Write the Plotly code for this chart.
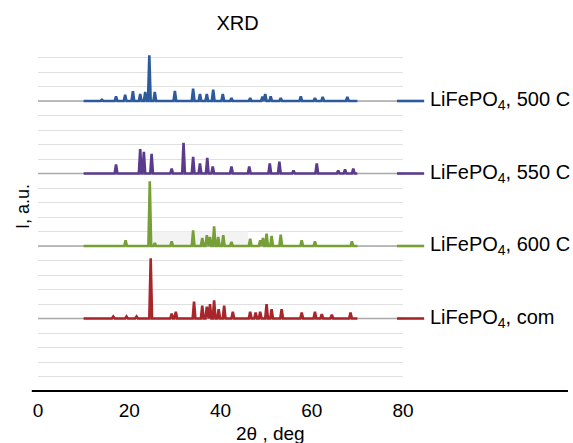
import plotly.graph_objects as go

# ---- data (peak positions in 2θ, heights in a.u.) ----
series_names = ["LiFePO<sub>4</sub>, 500 C", "LiFePO<sub>4</sub>, 550 C",
                "LiFePO<sub>4</sub>, 600 C", "LiFePO<sub>4</sub>, com"]
series_colors = ["#2c5a9c", "#5a3b8c", "#76a035", "#a8252a"]
series_offsets = [20, 15, 10, 5]
scan_start = 10.0
scan_end = 70.0

blue_pos = [14.0, 17.1, 19.1, 20.8, 22.4, 23.5, 24.4, 25.6, 30.0, 34.0, 35.5, 37.0, 38.4,
            40.5, 42.4, 46.5, 49.2, 49.8, 51.0, 53.2, 57.6, 60.7, 62.4, 67.8]
blue_h = [0.09, 0.32, 0.43, 0.67, 0.48, 0.62, 3.15, 0.62, 0.69, 0.85, 0.48, 0.48, 0.78,
          0.48, 0.21, 0.21, 0.3, 0.48, 0.32, 0.21, 0.32, 0.21, 0.28, 0.28]

purple_pos = [17.1, 22.4, 23.2, 24.9, 29.3, 31.9, 34.0, 35.5, 37.1, 38.3, 42.4, 46.3,
              50.8, 52.9, 56.0, 61.1, 65.8, 67.3, 69.1]
purple_h = [0.62, 1.68, 1.5, 1.35, 0.34, 2.12, 1.15, 0.69, 1.08, 0.48, 0.48, 0.48,
            0.69, 0.81, 0.21, 0.69, 0.21, 0.28, 0.34]

green_pos = [19.2, 24.5, 25.6, 29.3, 34.0, 36.0, 37.0, 37.7, 38.6, 39.5, 40.6, 42.4,
             46.5, 48.7, 49.3, 50.1, 51.2, 53.2, 57.8, 60.7, 68.8]
green_h = [0.39, 4.46, 0.21, 0.32, 1.08, 0.55, 0.74, 0.62, 1.36, 0.62, 0.74, 0.28,
           0.5, 0.39, 0.55, 0.85, 0.69, 0.78, 0.39, 0.32, 0.32]

red_pos = [16.5, 19.4, 21.6, 24.7, 29.3, 30.2, 34.2, 36.0, 37.0, 37.7, 38.6, 39.6, 40.8,
           42.7, 46.5, 47.7, 48.7, 50.1, 51.2, 53.4, 57.8, 60.7, 62.2, 64.4, 68.5]
red_h = [0.14, 0.14, 0.14, 4.16, 0.34, 0.46, 1.17, 0.88, 0.81, 0.99, 1.26, 0.64, 0.88,
         0.46, 0.46, 0.41, 0.46, 0.99, 0.64, 0.64, 0.41, 0.46, 0.3, 0.26, 0.41]

x_ticks = [0, 20, 40, 60, 80]
y_max = 24

peaks = [(blue_pos, blue_h), (purple_pos, purple_h), (green_pos, green_h), (red_pos, red_h)]
HALF_WIDTH = 0.3


def profile(pos, h, offset):
    xs, ys = [scan_start], [offset]
    for p, v in zip(pos, h):
        xs += [p - HALF_WIDTH, p, p + HALF_WIDTH]
        ys += [offset, offset + v, offset]
    xs.append(scan_end)
    ys.append(offset)
    return xs, ys


FONT = "Liberation Sans, Arial, sans-serif"

fig = go.Figure()
for (pos, h), name, col, off in zip(peaks, series_names, series_colors, series_offsets):
    xs, ys = profile(pos, h, off)
    fig.add_trace(go.Scatter(x=xs, y=ys, mode="lines", name=name, showlegend=False,
                             line=dict(color=col, width=2.6, shape="linear"),
                             hoverinfo="skip"))

shapes = []
annotations = []
# faint shaded band seen in the reference
shapes.append(dict(type="rect", xref="x", yref="y", x0=25, x1=46, y0=10, y1=11,
                   fillcolor="#f3f3f3", line=dict(width=0), layer="between"))
# darker baseline grid lines
for off in series_offsets:
    shapes.append(dict(type="line", xref="x", yref="y", x0=0, x1=80, y0=off, y1=off,
                       line=dict(color="#a9a9a9", width=1.6), layer="between"))
# black horizontal axis line extending under the legend
shapes.append(dict(type="line", xref="paper", yref="paper", x0=-0.017, x1=1.452, y0=0, y1=0,
                   line=dict(color="black", width=2.2)))

# legend: key line + label beside each series baseline
for name, col, off in zip(series_names, series_colors, series_offsets):
    yp = off / y_max
    shapes.append(dict(type="line", xref="paper", yref="paper", x0=0.9836, x1=1.058,
                       y0=yp, y1=yp, line=dict(color=col, width=2.6)))
    annotations.append(dict(text=name, xref="paper", yref="paper", x=1.068, y=yp,
                            xanchor="left", yanchor="middle", showarrow=False,
                            font=dict(family=FONT, size=20, color="black")))

annotations += [
    dict(text="2θ , deg", xref="paper", yref="paper", x=0.636, y=-0.1207,
         xanchor="center", yanchor="middle", showarrow=False,
         font=dict(family=FONT, size=19, color="black")),
    dict(text="I, a.u.", xref="paper", yref="paper", x=-0.041, y=0.529,
         xanchor="center", yanchor="middle", textangle=-90, showarrow=False,
         font=dict(family=FONT, size=18, color="black")),
]

fig.update_layout(
    width=573, height=443,
    margin=dict(l=38, r=170, t=43, b=52, autoexpand=False),
    paper_bgcolor="white", plot_bgcolor="white",
    font=dict(family=FONT, color="black", size=19),
    title=dict(text="XRD", x=0.4145, xref="container", xanchor="center",
               y=0.948, yref="container", yanchor="middle",
               font=dict(family=FONT, size=20, color="black")),
    xaxis=dict(range=[0, 80], tickvals=x_ticks, ticktext=[str(t) for t in x_ticks],
               showgrid=False, zeroline=False, showline=False, ticks="",
               ticklabelstandoff=6, tickfont=dict(size=19)),
    yaxis=dict(range=[0, y_max], dtick=1, showgrid=True, gridcolor="#e0e0e0", gridwidth=1.3,
               showticklabels=False, zeroline=False, showline=False, ticks=""),
    showlegend=False,
    shapes=shapes,
    annotations=annotations,
)

fig.write_html("out.html", config={"displayModeBar": False},
               post_script="document.body.style.margin='0px';")
